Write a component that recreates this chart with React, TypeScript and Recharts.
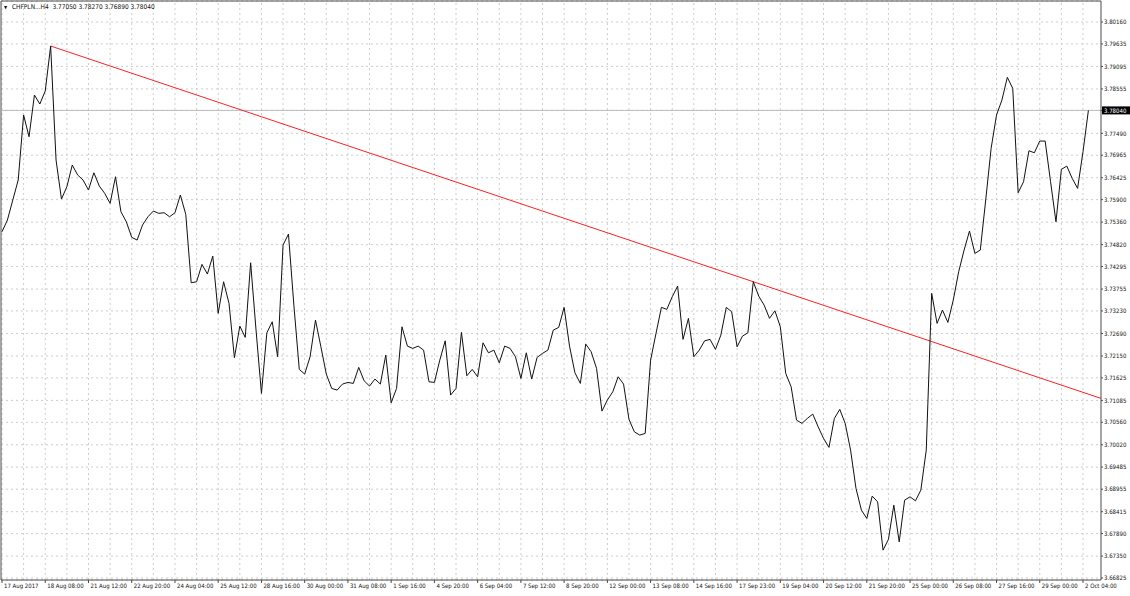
import React from "react";
import {
  LineChart,
  Line,
  XAxis,
  YAxis,
  CartesianGrid,
  ReferenceLine,
} from "recharts";

// H4 closes, CHFPLN, 17 Aug 2017 .. 2 Oct 2017
const augCloses = [
  3.75129, 3.7541, 3.7589, 3.7637, 3.77929, 3.77408, 3.78409, 3.78193, 3.78505, 3.79584,
  3.76849, 3.75914, 3.76209, 3.76729, 3.7649, 3.7637, 3.7613, 3.76545, 3.76226, 3.76051,
  3.75811, 3.76449, 3.75609, 3.75369, 3.74995, 3.7493, 3.7529, 3.75489, 3.75626, 3.75571,
  3.75585, 3.75489, 3.75585, 3.7601, 3.75547, 3.73906, 3.7393, 3.74347, 3.74115, 3.74546,
  3.73172, 3.7393, 3.73412, 3.72107, 3.72867, 3.72596, 3.74386, 3.72771, 3.71253, 3.72706,
  3.7297, 3.72131, 3.7481, 3.75074, 3.73371, 3.71828, 3.71716, 3.72131, 3.73011, 3.7237,
  3.71716, 3.71372, 3.71332, 3.71476, 3.71516, 3.71492, 3.71876, 3.71555,
];
const sepCloses = [
  3.71428, 3.71596, 3.71476, 3.72171, 3.71027, 3.71372, 3.7285, 3.72387, 3.72332, 3.72387,
  3.72291, 3.71531, 3.71516, 3.72051, 3.72514, 3.71212, 3.71372, 3.72716, 3.71675, 3.71828,
  3.71651, 3.72466, 3.72226, 3.72291, 3.71987, 3.72387, 3.72332, 3.72131, 3.71612, 3.72226,
  3.71596, 3.72116, 3.72212, 3.72291, 3.72771, 3.72836, 3.73316, 3.72387, 3.71747, 3.71492,
  3.72435, 3.72251, 3.71852, 3.70828, 3.71092, 3.71291, 3.71651, 3.71476, 3.70629, 3.70331,
  3.70252, 3.70293, 3.72051, 3.72692, 3.73316, 3.73268, 3.7357, 3.73827, 3.72548, 3.73052,
  3.72131, 3.72291, 3.72514, 3.72548, 3.72308, 3.72651, 3.73316, 3.7321, 3.7237, 3.72627,
  3.72706, 3.7393, 3.73587, 3.73371, 3.73052, 3.73234, 3.7285, 3.71732, 3.71411, 3.70612,
  3.70533, 3.70653, 3.70756, 3.70451, 3.70173, 3.69957, 3.70653, 3.70869, 3.70533, 3.69892,
  3.68973, 3.68453, 3.68254, 3.68789, 3.68652, 3.67493, 3.6775, 3.68573, 3.67692, 3.68693,
  3.68772, 3.68676, 3.68933, 3.69892, 3.73652, 3.72932, 3.73251, 3.72956, 3.73491, 3.7417,
  3.7469, 3.75146, 3.74611, 3.7469, 3.7589, 3.7713, 3.77929, 3.78289, 3.78833, 3.78569,
  3.76065, 3.76329, 3.77072, 3.77024, 3.77305, 3.77305, 3.76329, 3.75369, 3.76626, 3.76705,
];
const octCloses = [3.7641, 3.7617, 3.7705, 3.7804];

const xTickLabels = [
  "17 Aug 2017", "18 Aug 08:00", "21 Aug 12:00", "22 Aug 20:00", "24 Aug 04:00",
  "25 Aug 12:00", "28 Aug 16:00", "30 Aug 00:00", "31 Aug 08:00", "1 Sep 16:00",
  "4 Sep 20:00", "6 Sep 04:00", "7 Sep 12:00", "8 Sep 20:00", "12 Sep 00:00",
  "13 Sep 08:00", "14 Sep 16:00", "17 Sep 23:00", "19 Sep 04:00", "20 Sep 12:00",
  "21 Sep 20:00", "25 Sep 00:00", "26 Sep 08:00", "27 Sep 16:00", "29 Sep 00:00",
  "2 Oct 04:00",
];

const yTicks = [
  3.8016, 3.79635, 3.79095, 3.78555, 3.7804, 3.7749, 3.76965, 3.76425, 3.759, 3.7536,
  3.7482, 3.74295, 3.73755, 3.7323, 3.7269, 3.7215, 3.71625, 3.71085, 3.7056, 3.7002,
  3.69485, 3.68955, 3.68415, 3.6789, 3.6735, 3.66825,
];

const lastPrice = 3.7804;
const headerQuote = ["3.77050", "3.78270", "3.76890", "3.78040"];
// trend line drawn from the 18 Aug high through the 17 Sep high
const trendLine = [
  { bar: 9, price: 3.79584 },
  { bar: 203.33, price: 3.71133 },
];

const closes = [...augCloses, ...sepCloses, ...octCloses];
const rows = closes.map((c, i) => ({ bar: i, close: c }));
const xTickBars = xTickLabels.map((_, k) => k * 8); // a label every 8 bars
const gridBars = Array.from({ length: 51 }, (_, k) => k * 4);

const xDomain = [-0.185, 203.33];
const yDomain = [3.66777, 3.80664];

const FONT = "'DejaVu Sans Condensed', 'Liberation Sans', Arial, sans-serif";
const FRAME = "#4a4a4a";
const GRID = "#cdcdcd";

function XTick(props: any) {
  const { x, y, payload } = props;
  const k = xTickBars.indexOf(payload.value);
  return (
    <text x={x + 2} y={y + 4.5} fontSize={6} fontFamily={FONT} fill="#111" textAnchor="start">
      {xTickLabels[k]}
    </text>
  );
}

function YTick(props: any) {
  const { x, y, payload } = props;
  const label = payload.value.toFixed(5);
  if (payload.value === lastPrice) {
    return (
      <g>
        <rect x={x - 1} y={y - 4} width={29} height={8} fill="#000" />
        <text x={x + 1} y={y + 2.2} fontSize={6} fontFamily={FONT} fill="#fff">
          {label}
        </text>
      </g>
    );
  }
  return (
    <text x={x + 1} y={y + 2.2} fontSize={6} fontFamily={FONT} fill="#111" textAnchor="start">
      {label}
    </text>
  );
}

export default function App() {
  return (
    <div style={{ position: "absolute", left: 0, top: 0, width: 1130, height: 596, background: "#fff" }}>
      <LineChart
        width={1130}
        height={596}
        data={rows}
        margin={{ top: 1, right: 0, bottom: 0, left: 1 }}
      >
        <CartesianGrid vertical={false} stroke={GRID} strokeDasharray="2 3" />
        {gridBars.map((g) => (
          <ReferenceLine key={g} x={g} stroke={GRID} strokeDasharray="2 3" />
        ))}
        <XAxis
          type="number"
          dataKey="bar"
          domain={xDomain}
          allowDataOverflow
          ticks={xTickBars}
          interval={0}
          tick={<XTick />}
          tickSize={3}
          tickMargin={0}
          height={16}
          axisLine={{ stroke: FRAME }}
          tickLine={{ stroke: FRAME }}
        />
        <YAxis
          orientation="right"
          type="number"
          domain={yDomain}
          allowDataOverflow
          ticks={yTicks}
          interval={0}
          tick={<YTick />}
          tickSize={2}
          tickMargin={0}
          width={29}
          axisLine={{ stroke: FRAME }}
          tickLine={{ stroke: FRAME }}
        />
        <ReferenceLine x={xDomain[0]} stroke={FRAME} />
        <ReferenceLine y={yDomain[1]} stroke={FRAME} />
        <ReferenceLine y={lastPrice} stroke="#bcbcbc" />
        <ReferenceLine
          segment={trendLine.map((p) => ({ x: p.bar, y: p.price }))}
          stroke="#ff2020"
          strokeWidth={1}
        />
        <Line
          type="linear"
          dataKey="close"
          stroke="#111"
          strokeWidth={1}
          dot={false}
          isAnimationActive={false}
        />
      </LineChart>
      <svg width={200} height={14} style={{ position: "absolute", left: 0, top: 0 }}>
        <text x={4} y={8.6} fontSize={4.5} fontFamily={FONT} fill="#111">▼</text>
        <text x={12} y={9} fontSize={6.5} fontFamily={FONT} fill="#111" xmlSpace="preserve">
          {"CHFPLN...H4  " + headerQuote.join(" ")}
        </text>
      </svg>
    </div>
  );
}
